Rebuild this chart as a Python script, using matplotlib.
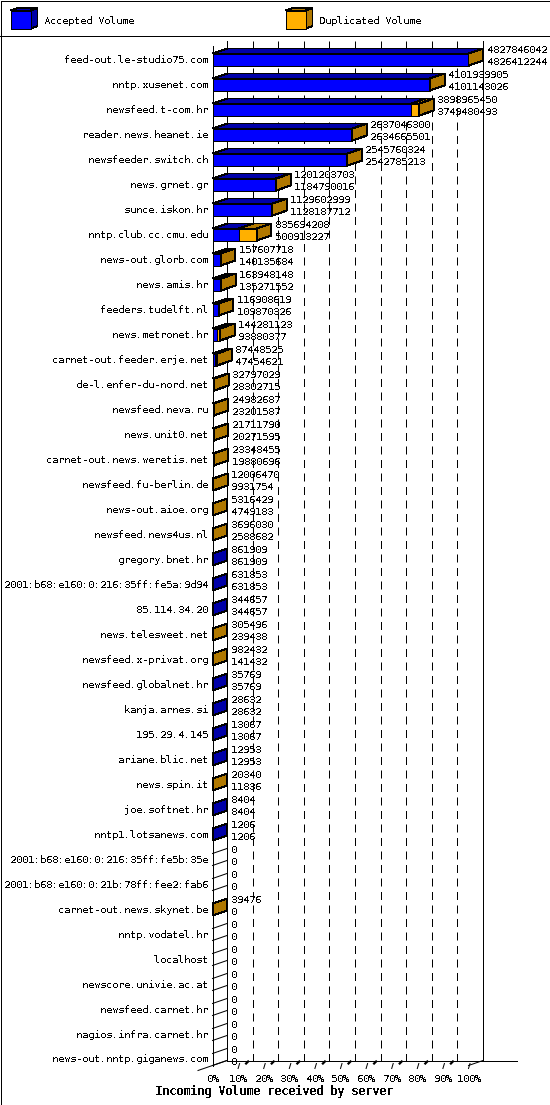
import matplotlib
matplotlib.use('Agg')
import matplotlib.pyplot as plt
from matplotlib.patches import Polygon, Rectangle
from matplotlib.transforms import ScaledTranslation

servers = ['feed-out.le-studio75.com', 'nntp.xusenet.com', 'newsfeed.t-com.hr', 'reader.news.heanet.ie',
           'newsfeeder.switch.ch', 'news.grnet.gr', 'sunce.iskon.hr', 'nntp.club.cc.cmu.edu',
           'news-out.glorb.com', 'news.amis.hr', 'feeders.tudelft.nl', 'news.metronet.hr',
           'carnet-out.feeder.erje.net', 'de-l.enfer-du-nord.net', 'newsfeed.neva.ru', 'news.unit0.net',
           'carnet-out.news.weretis.net', 'newsfeed.fu-berlin.de', 'news-out.aioe.org', 'newsfeed.news4us.nl',
           'gregory.bnet.hr', '2001:b68:e160:0:216:35ff:fe5a:9d94', '85.114.34.20', 'news.telesweet.net',
           'newsfeed.x-privat.org', 'newsfeed.globalnet.hr', 'kanja.arnes.si', '195.29.4.145',
           'ariane.blic.net', 'news.spin.it', 'joe.softnet.hr', 'nntp1.lotsanews.com',
           '2001:b68:e160:0:216:35ff:fe5b:35e', '2001:b68:e160:0:21b:78ff:fee2:fab6', 'carnet-out.news.skynet.be',
           'nntp.vodatel.hr', 'localhost', 'newscore.univie.ac.at', 'newsfeed.carnet.hr',
           'nagios.infra.carnet.hr', 'news-out.nntp.giganews.com']
total_volume = [4827846042, 4101939905, 3898965450, 2637046300, 2545760324, 1201203703, 1129602999, 835694208,
                157607718, 163948148, 116908619, 144281123, 87448525, 32797029, 24982687, 21711790,
                23348455, 12006470, 5316429, 3696030, 861909, 631853, 344657, 305496,
                982432, 35769, 28632, 13067, 12953, 20340, 8404, 1206,
                0, 0, 39476, 0, 0, 0, 0, 0, 0]
accepted_volume = [4826412244, 4101143026, 3749480493, 2634665501, 2542785213, 1184790016, 1128187712, 500913227,
                   140135684, 135271552, 109870326, 93880377, 47454621, 28302715, 23201587, 20271595,
                   19880696, 9931754, 4749183, 2588682, 861909, 631853, 344657, 239438,
                   141432, 35769, 28632, 13067, 12953, 11836, 8404, 1206,
                   0, 0, 0, 0, 0, 0, 0, 0, 0]
pct_ticks = [0, 10, 20, 30, 40, 50, 60, 70, 80, 90, 100]

BLUE, DARK_BLUE = '#0000ff', '#0000a8'
ORANGE, BROWN = '#ffb000', '#b07800'
W, H = 550, 1105
LW = 0.72  # one pixel at dpi 100
MONO = 'DejaVu Sans Mono'

plt.rcParams['text.antialiased'] = False
plt.rcParams['text.hinting'] = 'native'
plt.rcParams['text.hinting_factor'] = 1
plt.rcParams['font.family'] = MONO

fig = plt.figure(figsize=(W / 100, H / 100), dpi=100)

# overlay in pixels for the frame, the legend and the title
deco = fig.add_axes([0, 0, 1, 1])
deco.set_xlim(0, W)
deco.set_ylim(H, 0)
deco.axis('off')

# plot axes: x is percent of the biggest total, y is row number
X0, X1, Y_TOP, Y_BOT = 212.5, 468.5, 45.5, 1065.5
ROW0, ROW_H = 59.5, 25.0
ax = fig.add_axes([X0 / W, 1 - Y_BOT / H, (X1 - X0) / W, (Y_BOT - Y_TOP) / H])
ax.set_xlim(0, 100)
ax.set_ylim((Y_BOT - ROW0) / ROW_H, (Y_TOP - ROW0) / ROW_H)
ax.patch.set_alpha(0)
for s in ax.spines.values():
    s.set_visible(False)

PX = 100 / (X1 - X0)  # percent per pixel
RY = 1 / ROW_H        # rows per pixel
DX, DY = 14.5 * PX, -5 * RY
HALF = 6 * RY
base_y = ax.get_ylim()[0]
top_y = ax.get_ylim()[1]


def poly(pts, color):
    ax.add_patch(Polygon(pts, closed=True, facecolor=color, edgecolor='black', linewidth=LW,
                         antialiased=False, clip_on=False, zorder=3))


# walls and floor
ax.plot([0, 0], [top_y, base_y], color='black', lw=LW, clip_on=False, zorder=4)
ax.plot([DX, DX], [top_y + DY, base_y + DY], color='black', lw=LW, clip_on=False, zorder=1)
ax.plot([100 + DX, 100 + DX], [top_y + DY, base_y + DY], color='black', lw=LW, clip_on=False, zorder=1)
ax.plot([DX, 100 + DX + 34 * PX], [base_y + DY, base_y + DY], color='black', lw=LW, clip_on=False, zorder=1)
ax.plot([-DX, DX], [base_y - DY, base_y + DY], color='black', lw=LW, clip_on=False, zorder=1)
ax.plot([100, 100 + DX], [base_y, base_y + DY], color='black', lw=LW, clip_on=False, zorder=1)
for p in pct_ticks[1:-1]:
    ax.plot([p + DX, p + DX], [top_y + DY, base_y + DY], color='black', lw=LW, ls=(0, (8, 5.5)),
            clip_on=False, zorder=1)
for p in pct_ticks[1:]:
    ax.plot([p, p + 1.5 * PX], [base_y + 3 * RY, base_y - 2 * RY], color='black', lw=LW, clip_on=False, zorder=2)
    if p < 100:
        ax.plot([p + 8 * PX, p + 10 * PX], [base_y - 2 * RY, base_y - 4 * RY], color='black', lw=1.6,
                clip_on=False, zorder=2)

# bars
biggest = max(total_volume)
for i in range(len(servers)):
    tot = total_volume[i] / biggest * 100
    acc = accepted_volume[i] / biggest * 100
    y0, y1 = i + HALF, i - HALF
    if total_volume[i] == 0:
        ax.plot([0, DX], [y0, y0 + DY], color='black', lw=LW, zorder=3, clip_on=False)
        ax.plot([0, DX], [y1, y1 + DY], color='black', lw=LW, zorder=3, clip_on=False)
    else:
        if acc > 0:
            poly([(0, y1), (acc, y1), (acc + DX, y1 + DY), (DX, y1 + DY)], DARK_BLUE)
            poly([(0, y0), (acc, y0), (acc, y1), (0, y1)], BLUE)
        if tot > acc:
            poly([(acc, y1), (tot, y1), (tot + DX, y1 + DY), (acc + DX, y1 + DY)], BROWN)
            poly([(acc, y0), (tot, y0), (tot, y1), (acc, y1)], ORANGE)
        side = BROWN if tot > acc else DARK_BLUE
        poly([(tot, y0), (tot + DX, y0 + DY), (tot + DX, y1 + DY), (tot, y1)], side)
    ax.annotate(str(total_volume[i]), (tot + DX, i), xytext=(3.5, 9.5), textcoords='offset pixels',
                fontsize=7.2, va='center', ha='left', zorder=5, annotation_clip=False)
    ax.annotate(str(accepted_volume[i]), (tot + DX, i), xytext=(3.5, -2.5), textcoords='offset pixels',
                fontsize=7.2, va='center', ha='left', zorder=5, annotation_clip=False)

ax.set_yticks(range(len(servers)))
ax.set_yticklabels(servers, fontsize=7.2)
ax.set_xticks(pct_ticks)
ax.set_xticklabels(['%d%%' % p for p in pct_ticks], fontsize=7.2)
ax.tick_params(axis='y', length=0, pad=2.9)
ax.tick_params(axis='x', length=0, pad=5.8)
nudge = ScaledTranslation(0, 1 / 100, fig.dpi_scale_trans)  # row labels sit a pixel higher
for label in ax.get_yticklabels():
    label.set_transform(label.get_transform() + nudge)

deco.text(274, 1092, 'Incoming Volume received by server', fontsize=8.4, fontweight='bold',
          ha='center', va='center')

# frame and header
deco.add_patch(Rectangle((0.5, 0.5), W - 1, H - 1, fill=False, edgecolor='black', lw=LW, antialiased=False))
deco.plot([0, W], [35.5, 35.5], color='black', lw=LW, antialiased=False)


def swatch(x, front, top, side, label, tx):
    y0, y1, dx, dy, w = 28.5, 10.5, 7, 2.5, 20
    for pts, col in [([(x, y1), (x + w, y1), (x + w + dx, y1 - dy), (x + dx, y1 - dy)], top),
                     ([(x + w, y0), (x + w + dx, y0 - dy), (x + w + dx, y1 - dy), (x + w, y1)], side),
                     ([(x, y0), (x + w, y0), (x + w, y1), (x, y1)], front)]:
        deco.add_patch(Polygon(pts, closed=True, facecolor=col, edgecolor='black', lw=LW, antialiased=False))
    deco.text(tx, 21, label, fontsize=7.2, va='center', ha='left')


swatch(10.5, BLUE, DARK_BLUE, DARK_BLUE, 'Accepted Volume', 44)
swatch(285.5, ORANGE, BROWN, BROWN, 'Duplicated Volume', 319)

fig.savefig('out.png', dpi=100)
